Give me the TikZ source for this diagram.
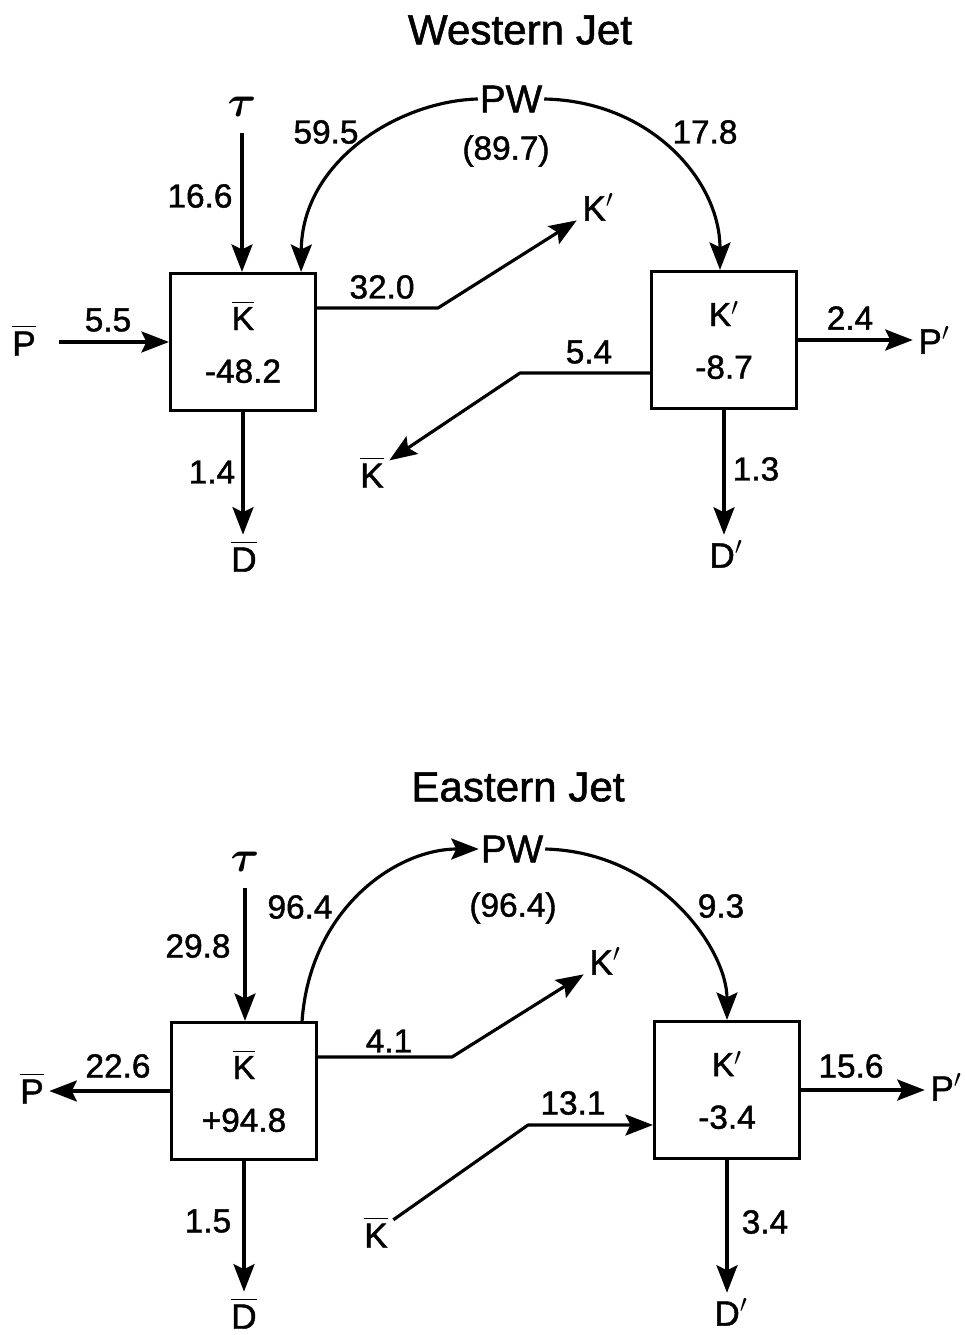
\documentclass[tikz,border=0pt]{standalone}
\usepackage{amsmath}
\usepackage{fontspec}
\setmainfont{Liberation Sans}[UprightFeatures={FakeBold=1.3}]
\usetikzlibrary{arrows.meta,calc}

\newcommand{\barred}[1]{\ensuremath{\overline{\mbox{#1}}}}

\begin{document}
\begin{tikzpicture}[x=0.02cm, y=-0.02cm,
  box/.style={draw, line width=1.8pt, minimum width=2.9cm, minimum height=2.74cm, inner sep=0pt, align=center, font=\fontsize{19}{30}\selectfont},
  num/.style={inner sep=0pt, font=\fontsize{19}{22}\selectfont},
  sym/.style={inner sep=3pt, font=\fontsize{20}{22}\selectfont},
  ttl/.style={font=\fontsize{24}{28}\selectfont},
  pw/.style={inner sep=1pt, font=\fontsize{22}{26}\selectfont},
  link/.style={line width=1.8pt, line join=round},
  flow/.style={link, -{Stealth[length=5.5mm,width=4.2mm,inset=1mm]}}]
\useasboundingbox (0,0) rectangle (964,1335);

% western jet
\node[ttl] (ttlW) at (520,30) {Western Jet};
\node[pw] (pwW) at (511,99) {PW};
\node[num] (totW) at (506,151) {(89.7)};
\node[box] (kmW) at (243,342) {\barred{K}\\-48.2};
\node[box] (kpW) at (724,340) {K$'$\\-8.7};
\node[sym, font=\fontsize{27}{28}\selectfont] (tauW) at (242,107) {$\boldsymbol{\tau}$};
\node[sym] (pbW) at (24,340) {\barred{P}};
\node[sym] (dbW) at (244,556) {\barred{D}};
\node[sym] (kqW) at (598,207) {K$'$};
\node[sym] (kbW) at (372,472) {\barred{K}};
\node[sym] (ppW) at (934,340) {P$'$};
\node[sym] (dpW) at (726,554) {D$'$};
\foreach \t/\x/\y/\n in {16.6/200/196/a, 59.5/326/132/b, 17.8/705/132/c, 32.0/382/287/d,
  5.5/108/320/e, 1.4/212/472/f, 5.4/589/352/g, 2.4/850/318/h, 1.3/756/469/i}
  \node[num] (lW\n) at (\x,\y) {\t};

\coordinate (bendW1) at (438,308);
\coordinate (bendW2) at (520,373);
\draw[flow, shorten <=6pt] (tauW.south) -- (tauW.south |- kmW.north);
\draw[flow] (pwW.west) .. controls (400,101) and (302,160) .. ($(kmW.north east)+(-16,0)$);
\draw[flow] (pwW.east) .. controls (650,101) and (720,180) .. ($(kpW.north)+(-4,0)$);
\draw[flow, shorten <=10pt] (pbW.east |- kmW.west) -- (kmW.west);
\draw[flow] (kmW.south) -- (kmW.south |- dbW.north);
\draw[flow] ($(kmW.east)+(0,-34)$) -- (bendW1) -- (kqW);
\draw[flow] ($(kpW.west)+(0,33)$) -- (bendW2) -- (kbW);
\draw[flow] (kpW.east) -- (ppW.west |- kpW.east);
\draw[flow] (kpW.south) -- (kpW.south |- dpW.north);

% eastern jet
\node[ttl] (ttlE) at (518,787) {Eastern Jet};
\node[pw] (pwE) at (512,849) {PW};
\node[num] (totE) at (513,908) {(96.4)};
\node[box] (kmE) at (244,1091) {\barred{K}\\+94.8};
\node[box] (kpE) at (727,1090) {K$'$\\-3.4};
\node[sym, font=\fontsize{27}{28}\selectfont] (tauE) at (245,862) {$\boldsymbol{\tau}$};
\node[sym] (pbE) at (32,1088) {\barred{P}};
\node[sym] (dbE) at (244,1313) {\barred{D}};
\node[sym] (kqE) at (605,961) {K$'$};
\node[sym] (kbE) at (376,1232) {\barred{K}};
\node[sym] (ppE) at (946,1087) {P$'$};
\node[sym] (dpE) at (731,1312) {D$'$};
\foreach \t/\x/\y/\n in {29.8/198/946/a, 96.4/300/907/b, 9.3/721/906/c, 4.1/389/1041/d,
  22.6/118/1066/e, 1.5/208/1221/f, 13.1/573/1103/g, 15.6/851/1066/h, 3.4/765/1222/i}
  \node[num] (lE\n) at (\x,\y) {\t};

\coordinate (bendE1) at (452,1057);
\coordinate (bendE2) at (528,1125);
\draw[flow, shorten <=6pt] (tauE.south) -- (tauE.south |- kmE.north);
\draw[flow] ($(kmE.north east)+(-16,0)$) .. controls (310,910) and (395,849) .. (pwE.west);
\draw[flow] (pwE.east) .. controls (660,852) and (727,950) .. (kpE.north);
\draw[flow] (kmE.west) -- (pbE.east |- kmE.west);
\draw[flow] (kmE.south) -- (kmE.south |- dbE.north);
\draw[flow] ($(kmE.east)+(0,-34)$) -- (bendE1) -- (kqE);
\draw[flow] (kbE) -- (bendE2) -- ($(kpE.west)+(0,35)$);
\draw[flow] (kpE.east) -- (ppE.west |- kpE.east);
\draw[flow] (kpE.south) -- (kpE.south |- dpE.north);
\end{tikzpicture}
\end{document}
